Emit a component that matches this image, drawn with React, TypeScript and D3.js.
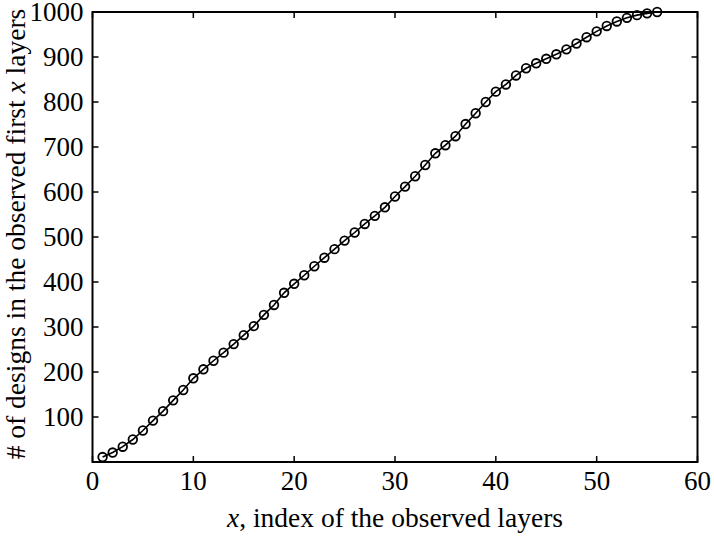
import React from "react";
import * as d3 from "d3";

const xValues: number[] = Array.from({ length: 56 }, (_, i) => i + 1);
const yValues: number[] = [
  11, 21, 34, 50, 70, 92, 113, 137, 160, 186,
  206, 225, 243, 262, 282, 302, 327, 349, 376, 396,
  415, 435, 454, 473, 492, 510, 529, 547, 566, 590,
  612, 635, 660, 686, 704, 724, 751, 775, 800, 823,
  839, 859, 875, 886, 896, 906, 917, 930, 944, 957,
  969, 979, 987, 993, 997, 1000,
];
const xTicks: number[] = [0, 10, 20, 30, 40, 50, 60];
const yTicks: number[] = [100, 200, 300, 400, 500, 600, 700, 800, 900, 1000];

const W = 714;
const H = 536;
const left = 92.5;
const right = 697.5;
const top = 12;
const bottom = 462;
const font = "Liberation Serif, DejaVu Serif, serif";
const fs = 27;
const lfs = 27.5;

export default function App() {
  const x = d3.scaleLinear().domain([0, 60]).range([left, right]);
  const y = d3.scaleLinear().domain([0, 1000]).range([bottom, top]);
  const pts = xValues.map((v, i) => [v, yValues[i]] as [number, number]);
  const line = d3
    .line<[number, number]>()
    .x((d) => x(d[0]))
    .y((d) => y(d[1]));
  const tl = 6;
  return (
    <svg
      width={W}
      height={H}
      style={{ position: "absolute", left: 0, top: 0, background: "#fff", fontFamily: font }}
    >
      <rect x={0} y={0} width={W} height={H} fill="#fff" />
      <path d={line(pts) || ""} fill="none" stroke="#000" strokeWidth={1.6} />
      {pts.map((d, i) => (
        <circle
          key={i}
          cx={x(d[0])}
          cy={y(d[1])}
          r={4.3}
          fill="none"
          stroke="#000"
          strokeWidth={1.8}
        />
      ))}
      {xTicks.map((t) => (
        <g key={"x" + t}>
          <line x1={x(t)} x2={x(t)} y1={bottom} y2={bottom - tl} stroke="#000" strokeWidth={1.5} />
          <line x1={x(t)} x2={x(t)} y1={top} y2={top + tl} stroke="#000" strokeWidth={1.5} />
          <text x={x(t)} y={bottom + 28} fontSize={fs} textAnchor="middle" fill="#000">
            {t}
          </text>
        </g>
      ))}
      {yTicks.map((t) => (
        <g key={"y" + t}>
          <line x1={left} x2={left + tl} y1={y(t)} y2={y(t)} stroke="#000" strokeWidth={1.5} />
          <line x1={right} x2={right - tl} y1={y(t)} y2={y(t)} stroke="#000" strokeWidth={1.5} />
          <text x={left - 9} y={y(t) + 8.5} fontSize={fs} textAnchor="end" fill="#000">
            {t}
          </text>
        </g>
      ))}
      <rect
        x={left}
        y={top}
        width={right - left}
        height={bottom - top}
        fill="none"
        stroke="#000"
        strokeWidth={2}
      />
      <text x={(left + right) / 2} y={527} fontSize={lfs} textAnchor="middle" fill="#000">
        <tspan fontStyle="italic">x</tspan>, index of the observed layers
      </text>
      <text
        transform={`translate(25, 234) rotate(-90)`}
        fontSize={lfs}
        textAnchor="middle"
        fill="#000"
      >
        # of designs in the observed first <tspan fontStyle="italic">x</tspan> layers
      </text>
    </svg>
  );
}
